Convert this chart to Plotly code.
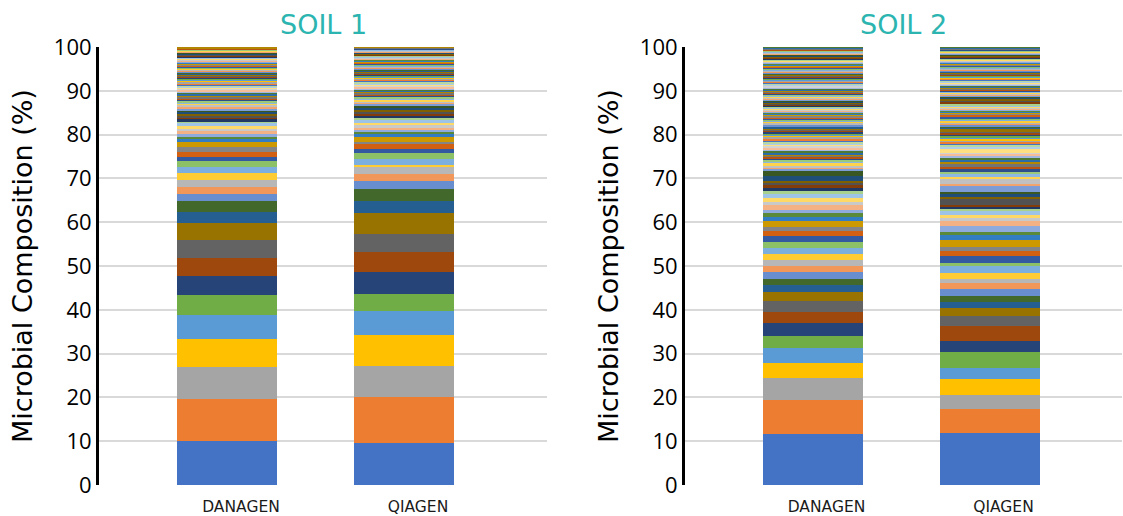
import colorsys
import plotly.graph_objects as go

CATS = ["DANAGEN", "QIAGEN"]
TITLES = ["SOIL 1", "SOIL 2"]
Y_TITLE = "Microbial Composition (%)"

# ---------------- SOIL 1 (percent per taxon, bottom to top) ----------------
soil1_danagen = [
    10.0, 9.7, 7.2, 6.4, 5.5, 4.6, 4.3, 4.2, 4.1, 3.8, 2.6, 2.4,
    1.6, 1.6, 1.6, 1.6, 1.5, 1.2, 1.0, 1.2, 1.0, 1.1, 0.9, 0.4,
    0.7, 0.6, 0.5, 0.7, 0.6, 0.5, 0.4, 0.5, 0.3, 0.6, 0.4, 0.3,
    0.45, 0.3, 0.5, 0.25, 0.3, 0.35, 0.2, 0.3, 0.25, 0.5, 0.3, 0.2, 0.45, 0.25, 0.3, 0.2,
    0.3, 0.25, 0.2, 0.3, 0.35, 0.2, 0.25, 0.3, 0.2, 0.25, 0.2, 0.3, 0.2, 0.25, 0.2, 0.15,
    0.25, 0.2, 0.15, 0.2, 0.25, 0.2, 0.15, 0.2, 0.2, 0.15, 0.25, 0.2, 0.15, 0.2, 0.15, 0.2,
    0.15, 0.2, 0.15, 0.1, 0.2, 0.15, 0.15, 0.1, 0.15, 0.1, 0.15, 0.1, 0.1, 0.15, 0.1, 0.25,
]
soil1_qiagen = [
    9.6, 10.4, 7.1, 7.1, 5.6, 3.8, 5.1, 4.5, 4.1, 4.8, 2.7, 2.8,
    1.8, 1.6, 1.5, 0.5, 1.5, 1.2, 1.0, 1.3, 0.4, 1.0, 0.8, 0.3,
    0.6, 0.5, 0.7, 0.4, 0.6, 0.5, 0.5, 0.4, 0.6, 0.3, 0.5, 0.4,
    0.5, 0.3, 0.35, 0.3, 0.25, 0.5, 0.3, 0.2, 0.35, 0.3, 0.25, 0.3, 0.2, 0.35, 0.25, 0.3,
    0.25, 0.4, 0.2, 0.25, 0.2, 0.3, 0.25, 0.2, 0.15, 0.25, 0.2, 0.3, 0.2, 0.2, 0.25, 0.15,
    0.2, 0.15, 0.2, 0.25, 0.15, 0.2, 0.15, 0.2, 0.1, 0.2, 0.15, 0.2, 0.15, 0.1, 0.2, 0.15,
    0.15, 0.1, 0.15, 0.1, 0.15, 0.1, 0.1, 0.15, 0.1, 0.15, 0.1, 0.1, 0.15, 0.1, 0.1, 0.2,
]

# ---------------- SOIL 2 ----------------
soil2_danagen = [
    11.7, 7.7, 5.1, 3.4, 3.4, 2.8, 2.9, 2.6, 2.5, 1.9, 1.6, 1.5,
    1.5, 1.4, 1.4, 1.4, 1.3, 1.4, 1.4, 1.1, 1.0, 1.2, 1.0, 1.0,
    0.7, 1.0, 0.7, 0.9, 0.9, 0.7, 0.6, 0.8, 0.5, 0.4, 1.1, 1.1,
    0.6, 0.35, 0.3, 0.8, 0.3, 0.25, 0.4, 0.3, 0.35, 0.25, 0.3, 0.6,
    0.3, 0.25, 0.6, 0.3, 0.2, 0.3, 0.25, 0.6, 0.3, 0.2, 0.25, 0.3,
    0.25, 0.5, 0.2, 0.25, 0.3, 0.2, 0.25, 0.2, 0.3, 0.25, 0.2, 0.25,
    0.2, 0.25, 0.55, 0.2, 0.25, 0.2, 0.2, 0.25, 0.2, 0.3, 0.2, 0.25,
    0.25, 0.2, 0.2, 0.3, 0.2, 0.25, 0.2, 0.2, 0.25, 0.2, 0.3, 0.2,
    0.2, 0.25, 0.2, 0.2, 0.15, 0.25, 0.2, 0.2, 0.25, 0.2, 0.15, 0.2,
    0.2, 0.2, 0.25, 0.15, 0.2, 0.2, 0.15, 0.25, 0.2, 0.2, 0.15, 0.2,
    0.15, 0.2, 0.2, 0.15, 0.2, 0.15, 0.2, 0.2, 0.15, 0.2, 0.15, 0.2,
    0.2, 0.15, 0.15, 0.2, 0.15, 0.2, 0.15, 0.15, 0.2, 0.15, 0.15, 0.2,
    0.15, 0.15, 0.2, 0.1, 0.15, 0.15, 0.2, 0.1, 0.15, 0.15, 0.1, 0.2,
]
soil2_qiagen = [
    11.9, 5.5, 3.2, 3.6, 2.5, 3.7, 2.4, 3.6, 2.1, 1.8, 1.5, 1.4,
    1.5, 1.4, 0.9, 1.4, 1.5, 0.9, 1.5, 1.1, 1.0, 1.5, 1.1, 0.7,
    1.4, 1.2, 0.6, 0.7, 1.0, 0.4, 0.5, 0.5, 1.3, 0.5, 0.6, 0.6,
    1.2, 0.5, 1.3, 0.4, 0.6, 0.5, 0.8, 0.4, 0.5, 0.6, 0.4, 0.5,
    0.4, 0.5, 0.3, 0.9, 0.4, 0.35, 0.5, 0.3, 0.4, 0.35, 0.3, 0.4,
    0.3, 0.35, 0.25, 0.7, 0.3, 0.25, 0.35, 0.3, 0.25, 0.3, 0.35, 0.25,
    0.25, 0.55, 0.2, 0.25, 0.3, 0.2, 0.25, 0.3, 0.2, 0.25, 0.2, 0.3,
    0.2, 0.25, 0.2, 0.6, 0.2, 0.2, 0.25, 0.2, 0.2, 0.25, 0.2, 0.2,
    0.2, 0.2, 0.25, 0.15, 0.2, 0.25, 0.2, 0.15, 0.2, 0.2, 0.25, 0.15,
    0.2, 0.15, 0.2, 0.2, 0.15, 0.2, 0.15, 0.2, 0.2, 0.15, 0.2, 0.15,
    0.15, 0.2, 0.15, 0.15, 0.2, 0.15, 0.2, 0.15, 0.15, 0.2, 0.15, 0.15,
    0.15, 0.15, 0.2, 0.15, 0.1, 0.15, 0.2, 0.15, 0.15, 0.1, 0.15, 0.2,
    0.15, 0.1, 0.15, 0.15, 0.1, 0.2, 0.15, 0.1, 0.15, 0.15, 0.1, 0.15,
]

# ---------------- Office-style series colours ----------------
ACCENTS = ["#4472C4", "#ED7D31", "#A5A5A5", "#FFC000", "#5B9BD5", "#70AD47"]
VARIANTS = [(1.0, 0.0), (0.6, 0.0), (0.8, 0.2), (0.8, 0.0), (0.6, 0.4),
            (0.5, 0.0), (0.7, 0.3), (0.7, 0.0), (0.5, 0.5)]


def lum_mod(hexc, mod, off):
    r, g, b = (int(hexc[i:i + 2], 16) / 255 for i in (1, 3, 5))
    h, l, s = colorsys.rgb_to_hls(r, g, b)
    l = min(1.0, l * mod + off)
    r, g, b = colorsys.hls_to_rgb(h, l, s)
    return "#%02X%02X%02X" % (round(r * 255), round(g * 255), round(b * 255))


def series_color(i):
    mod, off = VARIANTS[(i // 6) % len(VARIANTS)]
    return lum_mod(ACCENTS[i % 6], mod, off)


W, H = 1123, 516
BAR_W = 0.565

fig = go.Figure()
for k, (a, b) in enumerate(zip(soil1_danagen, soil1_qiagen)):
    fig.add_trace(go.Bar(x=[0, 1], y=[a, b], width=BAR_W, marker=dict(color=series_color(k), line=dict(width=0)),
                         xaxis="x", yaxis="y", showlegend=False, hoverinfo="skip"))
for k, (a, b) in enumerate(zip(soil2_danagen, soil2_qiagen)):
    fig.add_trace(go.Bar(x=[0, 1], y=[a, b], width=BAR_W, marker=dict(color=series_color(k), line=dict(width=0)),
                         xaxis="x2", yaxis="y2", showlegend=False, hoverinfo="skip"))

ydom = [31 / H, 469 / H]
xcommon = dict(tickvals=[0, 1], ticktext=CATS, showgrid=False, zeroline=False, showline=False, ticks="",
               automargin=False, ticklabelstandoff=10,
               tickfont=dict(family="DejaVu Sans", size=15.5, color="#1a1a1a"), ticklabelshift=14)
ycommon = dict(domain=ydom, range=[0, 100], dtick=10, tick0=0, showgrid=True, gridcolor="#D9D9D9", gridwidth=2,
               zeroline=False, showline=True, linecolor="black", linewidth=3, ticks="", automargin=False,
               tickfont=dict(family="Open Sans", size=22, color="black"))

fig.update_layout(
    width=W, height=H, margin=dict(l=0, r=0, t=0, b=0, autoexpand=False),
    paper_bgcolor="white", plot_bgcolor="white", barmode="stack",
    xaxis=dict(domain=[99 / W, 547 / W], range=[-(227 - 99) / 177, (547 - 227) / 177], anchor="y", **xcommon),
    yaxis=dict(anchor="x", **ycommon),
    xaxis2=dict(domain=[685 / W, 1122 / W], range=[-(812.5 - 685) / 177, (1122 - 812.5) / 177], anchor="y2", **xcommon),
    yaxis2=dict(anchor="x2", **ycommon),
)

title_font = dict(family="DejaVu Sans", size=27, color="#2CB5B0")
ytitle_font = dict(family="DejaVu Sans", size=27, color="black")
ymid = (ydom[0] + ydom[1]) / 2
for cx, ttl, ax in [((99 + 547) / 2 / W, TITLES[0], 22 / W), ((685 + 1122) / 2 / W, TITLES[1], 608 / W)]:
    fig.add_annotation(x=cx, y=1 - 25 / H, xref="paper", yref="paper", text=ttl, showarrow=False,
                       xanchor="center", yanchor="middle", font=title_font)
    fig.add_annotation(x=ax, y=ymid, xref="paper", yref="paper", text=Y_TITLE, showarrow=False,
                       textangle=-90, xanchor="center", yanchor="middle", font=ytitle_font)

fig.write_html("out.html")
